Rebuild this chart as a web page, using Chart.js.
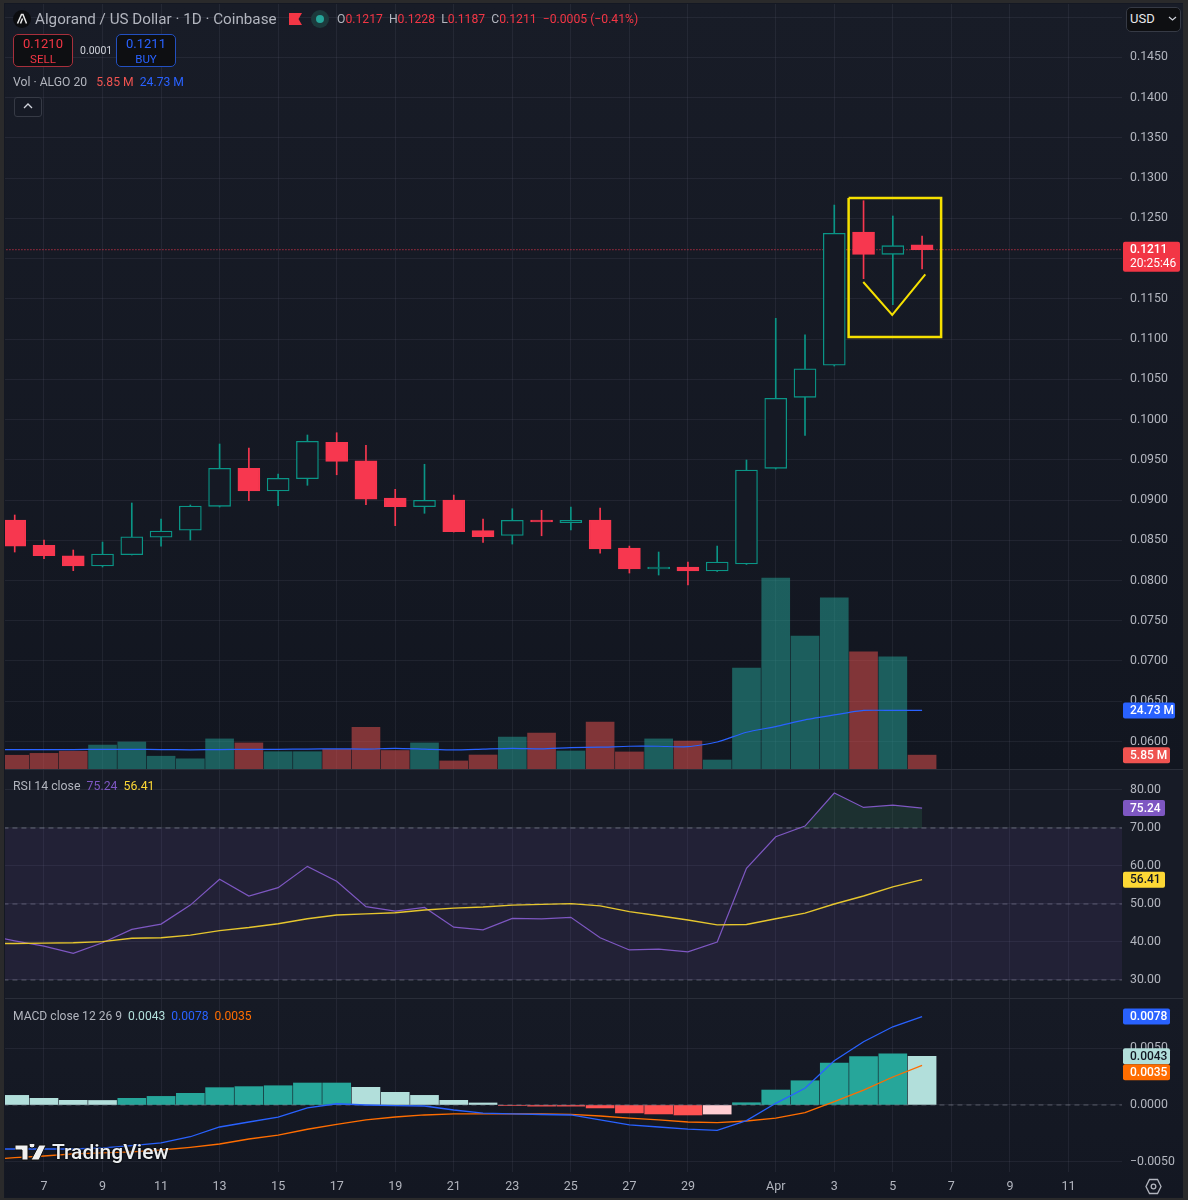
<!DOCTYPE html>
<html>
<head>
<meta charset="utf-8">
<title>Algorand / US Dollar</title>
<script src="https://cdn.jsdelivr.net/npm/chart.js@4/dist/chart.umd.js"></script>
<style>
  html, body { margin: 0; padding: 0; background: #2a2a2b; width: 1188px; height: 1200px; overflow: hidden; }
  body { position: relative; font-family: Roboto, "Noto Sans", sans-serif; color: #b2b5be; }
  #frame { position: absolute; left: 4px; top: 3px; width: 1179px; height: 1195px; background: #141823; }
  canvas { position: absolute; left: 5px; }
  #priceChart { top: 4px; background: linear-gradient(#181c27, #121620); }
  #rsiChart { top: 770px; background: #171b26; }
  #macdChart { top: 999px; background: linear-gradient(#161a25, #131722); }
  .txt { position: absolute; white-space: nowrap; font-size: 13px; line-height: 16px; }
  .btn { position: absolute; top: 34px; width: 58px; height: 30px; border-radius: 5px; background: #0e0f12; text-align: center; font-size: 13px; line-height: 15px; padding-top: 1px; }
  .red { color: #f23645; }
  .up { color: #2962ff; }
  .hr { position: absolute; left: 5px; width: 1178px; height: 1px; background: #2a2e39; }
</style>
</head>
<body>
<div id="frame"></div>
<canvas id="priceChart" width="1178" height="765"></canvas>
<canvas id="rsiChart" width="1178" height="228"></canvas>
<canvas id="macdChart" width="1178" height="198"></canvas>
<div class="hr" style="top:769px"></div>
<div class="hr" style="top:998px"></div>

<svg style="position:absolute;left:13px;top:10px" width="18" height="18" viewBox="0 0 18 18">
  <circle cx="9" cy="9" r="9" fill="#0c0d10"/>
  <path d="M4.5 13.5 L8.5 4.5 L10 4.5 L13.5 13.5 M7.5 13.5 L9.5 8.5" fill="none" stroke="#e8e8e8" stroke-width="1.5"/>
</svg>
<div class="txt" style="left:35px;top:10px;font-size:15.2px;line-height:18px;color:#b2b5be">Algorand / US Dollar · 1D · Coinbase</div>
<svg style="position:absolute;left:289px;top:13px" width="13" height="12"><path d="M0 0H13L9.5 6L13 12H0Z" fill="#f23645"/></svg>
<svg style="position:absolute;left:310px;top:9px" width="20" height="20">
  <circle cx="10" cy="10" r="9" fill="#1c3a3c"/><circle cx="10" cy="10" r="4" fill="#26a69a"/>
</svg>
<div class="txt" style="left:337px;top:11px;font-size:12.2px"><span>O</span><span class="red">0.1217</span> <span>&nbsp;H</span><span class="red">0.1228</span> <span>&nbsp;L</span><span class="red">0.1187</span> <span>&nbsp;C</span><span class="red">0.1211</span> <span class="red">&nbsp;−0.0005 (−0.41%)</span></div>

<div class="btn red" style="left:13px;border:1.5px solid #a8303c">0.1210<br><span style="font-size:11.5px">SELL</span></div>
<div class="txt" style="left:80px;top:43px;font-size:10.5px;color:#d1d4dc">0.0001</div>
<div class="btn up" style="left:116px;border:1.5px solid #2350c0">0.1211<br><span style="font-size:11.5px">BUY</span></div>

<div class="txt" style="left:13px;top:74px;font-size:12.2px">Vol · ALGO 20 &nbsp;&nbsp;<span style="color:#ef5350">5.85 M</span> &nbsp;<span class="up">24.73 M</span></div>
<div style="position:absolute;left:14px;top:97px;width:26px;height:18px;border:1px solid #363a45;border-radius:3px;background:#161a25"></div>
<svg style="position:absolute;left:22px;top:102px" width="12" height="8"><path d="M2 6L6 2L10 6" fill="none" stroke="#d1d4dc" stroke-width="1.3"/></svg>

<div style="position:absolute;left:1126px;top:7px;width:53px;height:23px;background:#0e0f12;border:1px solid #363a45;border-radius:5px"></div>
<div class="txt" style="left:1130px;top:11px;font-size:13px;color:#e8e8ea">USD</div>
<svg style="position:absolute;left:1168px;top:16px" width="9" height="6"><path d="M1 1L4.5 4L8 1" fill="none" stroke="#d1d4dc" stroke-width="1.2"/></svg>

<div class="txt" style="left:13px;top:778px;font-size:12.3px">RSI 14 close &nbsp;<span style="color:#7e57c2">75.24</span> &nbsp;<span style="color:#fdd835">56.41</span></div>
<div class="txt" style="left:13px;top:1008px;font-size:12.1px">MACD close 12 26 9 &nbsp;<span style="color:#b2dfdb">0.0043</span> &nbsp;<span style="color:#2962ff">0.0078</span> &nbsp;<span style="color:#ff6d00">0.0035</span></div>

<svg style="position:absolute;left:15px;top:1144px" width="33" height="17" viewBox="0 0 33 17">
  <path d="M0 1H13V16H7V6H0Z M14 1a3 3 0 1 0 6 0a3 3 0 1 0-6 0Z M24 1H31L24 16H16Z" fill="#f0f0f0" stroke="#111" stroke-width="1"/>
</svg>
<div class="txt" style="left:52px;top:1140px;font-size:21px;line-height:24px;font-weight:500;color:#eceff1;text-shadow:0 0 2px #000,0 0 2px #000">TradingView</div>
<svg style="position:absolute;left:1145px;top:1178px" width="17" height="17" viewBox="0 0 17 17">
  <path d="M4.5 1.5H12.5L16 8.5L12.5 15.5H4.5L1 8.5Z" fill="none" stroke="#b2b5be" stroke-width="1.3"/>
  <circle cx="8.5" cy="8.5" r="2.3" fill="none" stroke="#b2b5be" stroke-width="1.3"/>
</svg>

<script>
// ── Data ──
const dates = ['Mar 6','Mar 7','Mar 8','Mar 9','Mar 10','Mar 11','Mar 12','Mar 13','Mar 14','Mar 15','Mar 16',
  'Mar 17','Mar 18','Mar 19','Mar 20','Mar 21','Mar 22','Mar 23','Mar 24','Mar 25','Mar 26','Mar 27','Mar 28',
  'Mar 29','Mar 30','Mar 31','Apr 1','Apr 2','Apr 3','Apr 4','Apr 5','Apr 6'];

const opens = [.08752,.08437,.08308,.0818,.0832,.08537,.08624,.08922,.09394,.09112,.09265,.09717,.09488,.09025,
  .08917,.09,.08619,.08561,.08752,.08718,.08752,.08404,.08143,.08168,.08118,.08205,.09394,.10276,.10674,.1233,.12053,.1217];
const highs = [.08814,.08503,.08379,.08478,.08963,.08764,.08938,.09696,.09646,.09323,.09808,.09836,.0968,.09133,
  .09444,.09062,.08764,.08892,.08872,.08913,.08901,.08428,.08354,.0823,.08428,.09497,.11258,.11054,.12665,.12719,.12529,.1228];
const lows = [.08354,.08271,.08122,.08168,.08317,.08428,.08503,.08913,.08991,.08929,.09183,.09314,.08942,.08681,
  .08835,.08602,.08474,.08453,.08556,.08627,.08341,.08093,.08068,.07944,.08112,.08199,.09385,.09804,.10665,.1175,.11427,.1187];
const closes = [.08428,.08308,.0818,.08329,.08544,.08615,.08925,.09394,.09112,.0927,.09729,.09481,.09012,.08917,
  .08996,.08606,.08544,.08748,.08727,.08748,.08391,.08143,.08168,.08118,.0823,.09373,.10264,.10631,.12314,.12053,.1216,.1211];

const volumes = [5.8,6.6,7.5,10.1,11.4,5.4,4.3,12.7,11,7.3,7.3,8.3,17.6,7.8,11,3.4,5.9,13.5,15.2,7.6,19.8,7.2,
  12.7,11.8,3.8,42.6,80.6,56.1,72.2,49.4,47.3,5.85];

// line series carry one extra leading day (Mar 5) so they run off the left edge
const volMa = [8.2,8.2,8.2,8.2,8.3,8.3,8.2,8.1,8.2,8.3,8.3,8.4,8.5,8.4,8.7,8.4,8.1,8.4,8.7,8.5,9,9.2,9.6,9.6,
  9.4,11.4,15.5,17.9,20.7,22.8,24.7,24.73,24.73];
const rsi = [41.8,40.3,38.9,37,39.8,43.3,44.7,49.7,56.5,52.1,54.3,59.9,56,49.3,48.1,49.1,43.9,43.2,46.2,46.1,46.5,
  41.1,37.9,38.1,37.4,40,59.4,67.7,70.5,79.2,75.4,76,75.24];
const rsiMa = [39.6,39.6,39.7,39.8,40.1,41,41.1,41.8,43,43.8,44.8,46.1,47.1,47.4,47.7,48.4,48.9,49.2,49.7,49.9,50.1,
  49.5,48,46.9,45.8,44.5,44.6,46.1,47.6,50,52.1,54.5,56.41];
const macdLine = [-.00388,-.00388,-.00388,-.00388,-.00379,-.00359,-.00335,-.0028,-.00194,-.0015,-.00106,-.00026,.00011,0,
  -.00006,-.00009,-.00044,-.00071,-.00079,-.00084,-.00088,-.00132,-.00176,-.00194,-.00212,-.00223,-.00138,.00015,.00147,.00391,.00558,.0069,.0078];
const signalLine = [-.0048,-.00465,-.0045,-.00432,-.00423,-.00414,-.00397,-.00373,-.00344,-.003,-.00265,-.00214,-.0017,-.00132,
  -.00106,-.00088,-.00079,-.00079,-.00079,-.00079,-.00082,-.00097,-.00115,-.00132,-.0015,-.00156,-.00141,-.00115,-.00068,.00029,.00132,.00247,.0035];
const macdHist = [.00085,.00059,.00041,.0004,.00059,.00076,.00103,.00153,.00162,.0017,.00194,.00194,.00156,.00112,.00085,
  .00041,.00018,-.00004,-.0001,-.0001,-.00026,-.0007,-.00079,-.00088,-.0008,.0002,.00132,.00214,.0037,.00426,.00452,.0043];

const tickDays = [0,2,4,6,8,10,12,14,16,18,20,22,25,27,29,31,33,35];
const tickLabels = ['7','9','11','13','15','17','19','21','23','25','27','29','Apr','3','5','7','9','11'];
const priceTicks = [.06,.065,.07,.075,.08,.085,.09,.095,.1,.105,.11,.115,.12,.125,.13,.135,.14,.145,.15];
const rsiTicks = [30,40,50,60,70,80];
const macdTicks = [-.005,0,.005];

// hand drawn yellow markup on the chart, in day / price coordinates
const boxDays = [27.49,30.65,30.65,27.49,27.49];
const boxPrices = [.12752,.12752,.11025,.11025,.12752];
const vDays = [27.99,28.98,30.11];
const vPrices = [.11709,.11299,.11804];

const lastPrice = 0.1211;

// ── Style ──
const FONT = 'Roboto, "Noto Sans", sans-serif';
const UP = '#0a9586';
const DOWN = '#f7374f';
const GRID = 'rgba(120,125,145,0.13)';
const TICK = '#b2b5be';
const CANDLE_FILL = '#151924';
const YELLOW = '#f5e000';

// day position of each candle: Mar 7 is 0
const dayOf = i => i - 1;
const lineDayOf = i => i - 2;
const asLine = arr => arr.map((y, i) => ({ x: lineDayOf(i), y }));
const spanLine = v => [{ x: -2, y: v }, { x: 38, y: v }];

function xAxis(showLabels) {
  return {
    type: 'linear',
    offset: false,
    min: -1.332,
    max: 36.83,
    afterBuildTicks(s) { s.ticks = tickDays.map(value => ({ value })); },
    afterFit(s) { s.height = showLabels ? 25 : 0; s.paddingLeft = 0; s.paddingRight = 0; },
    grid: { color: GRID, drawTicks: false, offset: false },
    border: { display: false },
    ticks: {
      display: showLabels,
      autoSkip: false,
      maxRotation: 0,
      padding: 7,
      color: TICK,
      font: { family: FONT, size: 12.5 },
      callback: (v, i) => tickLabels[i],
    },
  };
}

function yAxis(min, max, values, fmt) {
  return {
    position: 'right',
    min, max,
    afterBuildTicks(s) { s.ticks = values.map(value => ({ value })); },
    afterFit(s) { s.width = 61; s.paddingTop = 0; s.paddingBottom = 0; },
    grid: { color: GRID, drawTicks: false },
    border: { display: false },
    ticks: {
      padding: 8,
      crossAlign: 'near',
      color: TICK,
      font: { family: FONT, size: 12.3 },
      callback: fmt,
    },
  };
}

// tags on the right axis, placed through the chart's own scales
function tagPlugin(tags) {
  return {
    id: 'tags',
    afterDraw(chart) {
      const ctx = chart.ctx;
      ctx.save();
      for (const t of tags) {
        const scale = chart.scales[t.scale || 'y'];
        const yc = scale.getPixelForValue(t.value) + (t.nudge || 0);
        const h = t.sub ? 30 : 16;
        const top = yc - 8;
        const x0 = chart.chartArea.right + 1;
        ctx.fillStyle = t.bg;
        ctx.beginPath();
        ctx.roundRect(x0, top, t.w, h, 2);
        ctx.fill();
        ctx.fillStyle = t.fg || '#fff';
        ctx.textAlign = 'left';
        ctx.textBaseline = 'middle';
        ctx.font = `500 12px ${FONT}`;
        ctx.fillText(t.text, x0 + 7, top + 8.5);
        if (t.sub) {
          ctx.font = `12px ${FONT}`;
          ctx.fillText(t.sub, x0 + 7, top + 22);
        }
      }
      ctx.restore();
    },
  };
}

Chart.defaults.animation = false;
Chart.defaults.responsive = false;
Chart.defaults.devicePixelRatio = 1;
Chart.defaults.font.family = FONT;
const noChrome = { legend: { display: false }, tooltip: { enabled: false } };
const isUp = i => closes[i] >= opens[i];
const areaBox = { padding: 0 };

// ── Price + volume pane ──
new Chart(document.getElementById('priceChart'), {
  type: 'bar',
  data: {
    datasets: [
      { type: 'line', order: 0, data: boxDays.map((x, i) => ({ x, y: boxPrices[i] })), borderColor: YELLOW, borderWidth: 2.5, pointRadius: 0, tension: 0 },
      { type: 'line', order: 0, data: vDays.map((x, i) => ({ x, y: vPrices[i] })), borderColor: YELLOW, borderWidth: 2, pointRadius: 0, tension: 0 },
      {
        order: 1, grouped: false, barThickness: 22, borderWidth: 1.3, borderSkipped: false,
        data: dates.map((d, i) => ({ x: dayOf(i), y: [opens[i], closes[i]] })),
        backgroundColor: dates.map((d, i) => (isUp(i) ? CANDLE_FILL : DOWN)),
        borderColor: dates.map((d, i) => (isUp(i) ? UP : DOWN)),
      },
      {
        order: 2, grouped: false, barThickness: 1, borderWidth: 0,
        data: dates.map((d, i) => ({ x: dayOf(i), y: [lows[i], highs[i]] })),
        backgroundColor: dates.map((d, i) => (isUp(i) ? UP : DOWN)),
      },
      { type: 'line', order: 3, data: spanLine(lastPrice), borderColor: '#f7374f', borderWidth: 1, borderDash: [1, 2], pointRadius: 0 },
      { type: 'line', order: 4, yAxisID: 'vol', data: asLine(volMa), borderColor: '#2962ff', borderWidth: 1.2, pointRadius: 0, tension: 0.2 },
      {
        order: 5, grouped: false, yAxisID: 'vol', barThickness: 28, borderWidth: 0,
        data: dates.map((d, i) => ({ x: dayOf(i), y: volumes[i] })),
        backgroundColor: dates.map((d, i) => (isUp(i) ? 'rgba(38,166,154,0.5)' : 'rgba(239,83,80,0.5)')),
      },
    ],
  },
  options: {
    layout: areaBox,
    plugins: noChrome,
    scales: {
      x: xAxis(false),
      y: yAxis(0.05658, 0.15163, priceTicks, v => v.toFixed(4)),
      vol: { display: false, min: 0, max: 322.8 },
    },
  },
  plugins: [tagPlugin([
    { value: lastPrice, text: '0.1211', sub: '20:25:46', bg: '#f23645', w: 57 },
    { scale: 'vol', value: 24.73, text: '24.73 M', bg: '#2962ff', w: 52 },
    { scale: 'vol', value: 5.85, text: '5.85 M', bg: '#ef5350', w: 47 },
  ])],
});

// ── RSI pane ──
new Chart(document.getElementById('rsiChart'), {
  type: 'line',
  data: {
    datasets: [
      { data: asLine(rsi), borderColor: '#7e57c2', borderWidth: 1.2, pointRadius: 0, tension: 0, order: 1,
        fill: { value: 70, above: 'rgba(46,125,80,0.22)', below: 'rgba(0,0,0,0)' } },
      { data: asLine(rsiMa), borderColor: '#e6c62e', borderWidth: 1.4, pointRadius: 0, tension: 0, order: 0 },
      { data: spanLine(70), borderColor: 'rgba(160,165,180,0.55)', borderWidth: 1, borderDash: [5, 4], pointRadius: 0, order: 2,
        fill: { value: 30, above: 'rgba(126,87,194,0.1)' } },
      { data: spanLine(50), borderColor: 'rgba(160,165,180,0.45)', borderWidth: 1, borderDash: [5, 4], pointRadius: 0, order: 2 },
      { data: spanLine(30), borderColor: 'rgba(160,165,180,0.45)', borderWidth: 1, borderDash: [5, 4], pointRadius: 0, order: 2 },
    ],
  },
  options: {
    layout: areaBox,
    plugins: noChrome,
    scales: {
      x: xAxis(false),
      y: yAxis(25.26, 85.26, rsiTicks, v => v.toFixed(2)),
    },
  },
  plugins: [tagPlugin([
    { value: 75.24, text: '75.24', bg: '#7e57c2', w: 42 },
    { value: 56.41, text: '56.41', bg: '#fdd835', fg: '#131722', w: 42 },
  ])],
});

// ── MACD pane ──
const histColors = macdHist.map((v, i) => {
  const prev = i ? macdHist[i - 1] : Infinity;
  if (v >= 0) return v >= prev ? '#26a69a' : '#b2dfdb';
  return v <= prev ? '#ff5252' : '#ffcdd2';
});

new Chart(document.getElementById('macdChart'), {
  type: 'bar',
  data: {
    datasets: [
      { type: 'line', data: asLine(macdLine), borderColor: '#2962ff', borderWidth: 1.3, pointRadius: 0, tension: 0, order: 0 },
      { type: 'line', data: asLine(signalLine), borderColor: '#ff6d00', borderWidth: 1.3, pointRadius: 0, tension: 0, order: 1 },
      { type: 'line', data: spanLine(0), borderColor: 'rgba(160,165,180,0.45)', borderWidth: 1, borderDash: [5, 4], pointRadius: 0, order: 2 },
      {
        order: 3, grouped: false, barThickness: 28, borderWidth: 0,
        data: dates.map((d, i) => ({ x: dayOf(i), y: macdHist[i] })),
        backgroundColor: histColors,
      },
    ],
  },
  options: {
    layout: areaBox,
    plugins: noChrome,
    scales: {
      x: xAxis(true),
      y: yAxis(-0.00591, 0.00935, macdTicks, v => (v < 0 ? '−' : '') + Math.abs(v).toFixed(4)),
    },
  },
  plugins: [tagPlugin([
    { value: 0.0078, text: '0.0078', bg: '#2962ff', w: 47 },
    { value: 0.0043, text: '0.0043', bg: '#b2dfdb', fg: '#131722', w: 47 },
    { value: 0.0035, nudge: 7, text: '0.0035', bg: '#ff6d00', w: 47 },
  ])],
});
</script>
</body>
</html>
